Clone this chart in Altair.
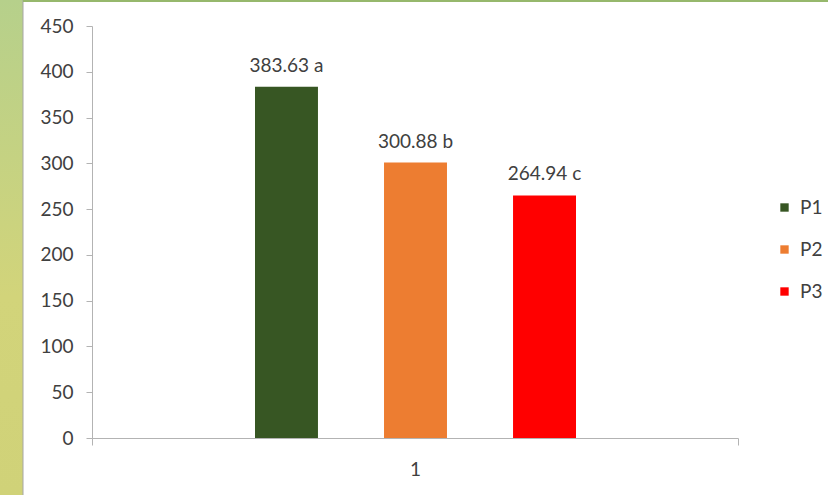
import altair as alt
import pandas as pd

series = ["P1", "P2", "P3"]
values = [383.63, 300.88, 264.94]
letters = ["a", "b", "c"]
category = ["1", "1", "1"]
colors = ["#375623", "#ED7D31", "#FF0000"]

df = pd.DataFrame({
    "cat": category,
    "series": series,
    "value": values,
    "label": [f"{v:.2f} {l}" for v, l in zip(values, letters)],
})

FONT = "Lato"
TXT = "#404040"
FS = 19

x_enc = alt.X("cat:N", title=None,
              scale=alt.Scale(paddingInner=0, paddingOuter=0),
              axis=alt.Axis(labelAngle=0, tickBand="extent", domainColor="#b3b3b3",
                            tickColor="#b3b3b3", tickSize=7, labelFontSize=FS,
                            labelFont=FONT, labelColor=TXT, labelPadding=15,
                            grid=False))
xoff = alt.XOffset("series:N", scale=alt.Scale(range=[163, 484],
                                               paddingInner=0.512, paddingOuter=0))
y_enc = alt.Y("value:Q", title=None,
              scale=alt.Scale(domain=[0, 450], nice=False),
              axis=alt.Axis(values=list(range(0, 451, 50)), grid=False,
                            domainColor="#b3b3b3", tickColor="#b3b3b3", tickSize=6,
                            labelFontSize=FS, labelFont=FONT, labelColor=TXT,
                            labelPadding=13))

base = alt.Chart(df)

bars = base.mark_bar().encode(
    x=x_enc, xOffset=xoff, y=y_enc,
    color=alt.Color("series:N", title=None,
                    scale=alt.Scale(domain=series, range=colors),
                    legend=alt.Legend(orient="none", legendX=683, legendY=172,
                                      symbolType="square", symbolSize=70,
                                      labelFontSize=FS, labelFont=FONT,
                                      labelColor=TXT, rowPadding=22,
                                      symbolStrokeWidth=0, labelOffset=6)),
)

labels = base.mark_text(baseline="bottom", dy=-11, fontSize=FS, font=FONT,
                        color=TXT).encode(
    x=alt.X("cat:N"), xOffset=xoff, y=alt.Y("value:Q"), text="label:N")

deco = pd.DataFrame({"d": [0]})
strip = alt.Chart(deco).mark_rect(
    color=alt.LinearGradient(gradient="linear", x1=0, y1=0, x2=0, y2=1,
                             stops=[alt.GradientStop(color="#b6d08b", offset=0),
                                    alt.GradientStop(color="#d2d47a", offset=0.6),
                                    alt.GradientStop(color="#d0d278", offset=1)]),
    clip=False).encode(
    x=alt.value(-92), x2=alt.value(-69), y=alt.value(-26), y2=alt.value(469))
border = alt.Chart(deco).mark_rule(color="#a6a6a6", strokeWidth=1).encode(
    x=alt.value(-69), y=alt.value(-26), y2=alt.value(469))
topline = alt.Chart(deco).mark_rule(color="#96b86c", strokeWidth=2).encode(
    x=alt.value(-69), x2=alt.value(736), y=alt.value(-25))

chart = alt.layer(strip, border, topline, bars, labels).properties(
    width=646, height=412,
    autosize=alt.AutoSizeParams(type="none"),
    padding={"left": 92, "top": 26, "right": 90, "bottom": 57},
    background="white",
).configure_view(stroke=None)

chart.save("out.html", embed_options={"renderer": "svg", "actions": False})
